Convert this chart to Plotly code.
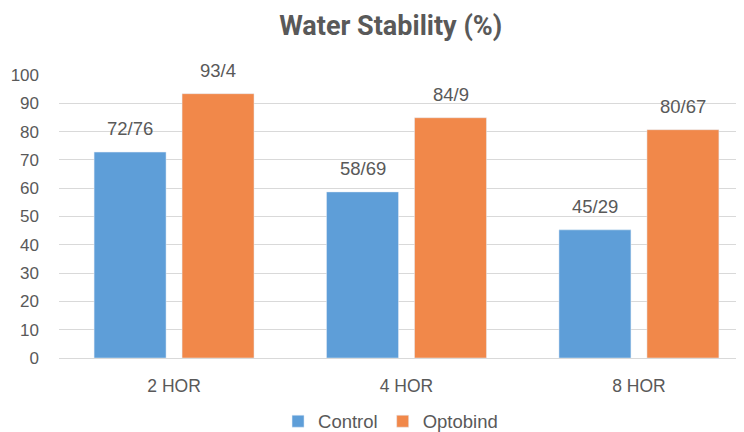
import plotly.graph_objects as go

categories = ["2 HOR", "4 HOR", "8 HOR"]
control = [72.76, 58.69, 45.29]
optobind = [93.4, 84.9, 80.67]
control_labels = ["72/76", "58/69", "45/29"]
optobind_labels = ["93/4", "84/9", "80/67"]
y_ticks = [0, 10, 20, 30, 40, 50, 60, 70, 80, 90, 100]

BLUE = "#5E9ED8"
ORANGE = "#F1884A"
TXT = "#595959"
GRID = "#D9D9D9"
FONT = "Liberation Sans, Arial"

fig = go.Figure()
fig.add_trace(go.Bar(name="Control", x=categories, y=control, marker_color=BLUE))
fig.add_trace(go.Bar(name="Optobind", x=categories, y=optobind, marker_color=ORANGE))

ann = []
for cat, v, t in zip(categories, control, control_labels):
    ann.append(dict(x=cat, y=v, text=t, showarrow=False, xshift=-44, yshift=11,
                    yanchor="bottom", font=dict(family=FONT, size=18.5, color=TXT)))
for cat, v, t in zip(categories, optobind, optobind_labels):
    ann.append(dict(x=cat, y=v, text=t, showarrow=False, xshift=44, yshift=11,
                    yanchor="bottom", font=dict(family=FONT, size=18.5, color=TXT)))

fig.update_layout(
    width=736, height=424,
    margin=dict(l=51, r=0, t=67, b=74, autoexpand=False),
    paper_bgcolor="white", plot_bgcolor="white",
    barmode="group", bargap=0.243, bargroupgap=0.182,
    title=dict(text="<b>Water Stability (%)</b>", x=0.52, xanchor="center", y=0.9575, yanchor="middle",
               font=dict(family="Roboto, Arial", size=27, color=TXT)),
    annotations=ann,
    showlegend=True,
    legend=dict(orientation="h", x=0.484, xanchor="center", y=-0.225, yanchor="middle",
                font=dict(family=FONT, size=18.5, color=TXT),
                itemwidth=30, traceorder="normal"),
    xaxis=dict(range=[-0.495, 2.452], showgrid=False, showline=False, ticks="",
               ticklabelstandoff=15,
               tickfont=dict(family=FONT, size=17.5, color=TXT)),
    yaxis=dict(range=[0, 100], tickvals=y_ticks, showgrid=True, gridcolor=GRID, gridwidth=1.3,
               zeroline=True, zerolinecolor=GRID, zerolinewidth=1.3, showline=False, ticks="",
               ticklabelstandoff=19,
               tickfont=dict(family=FONT, size=17, color=TXT)),
)

fig.write_html("out.html")
